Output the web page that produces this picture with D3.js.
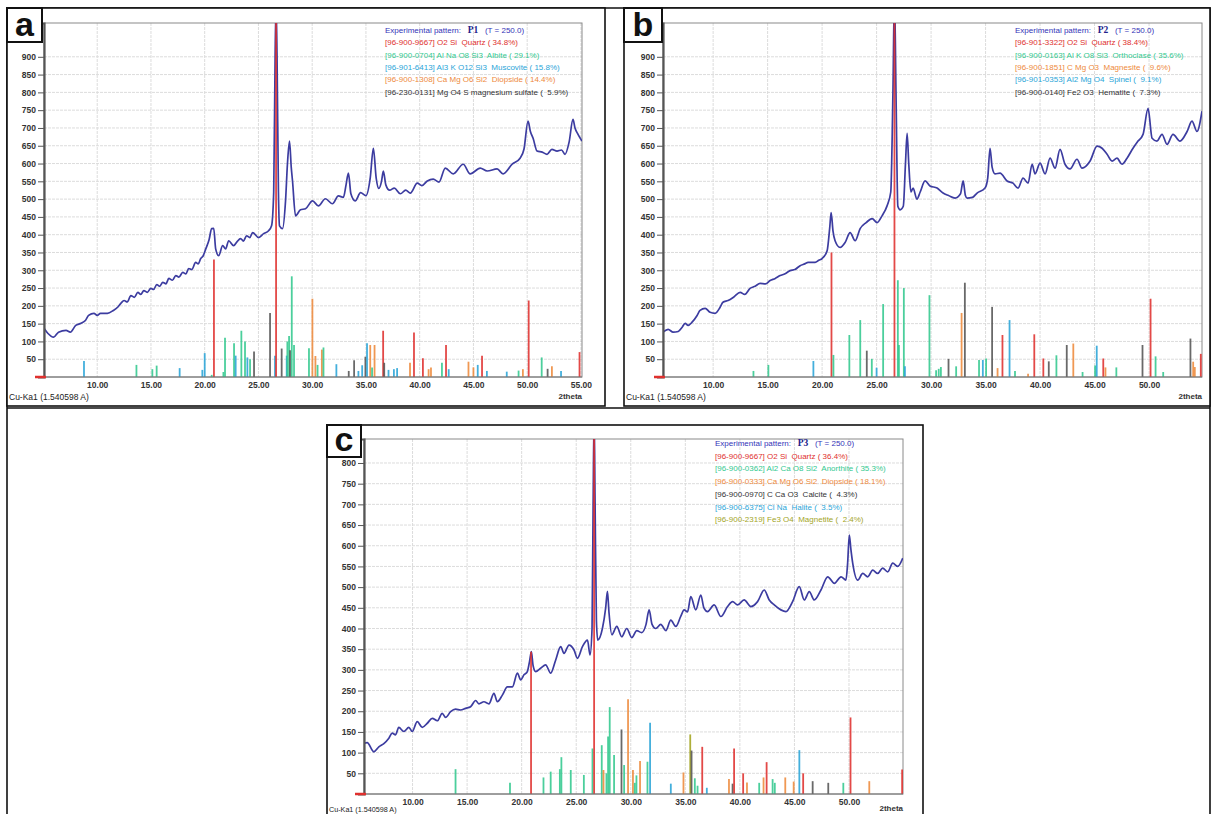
<!DOCTYPE html>
<html>
<head>
<meta charset="utf-8">
<script src="https://cdn.jsdelivr.net/npm/d3@7"></script>
<style>
body { margin: 0; background: #fff; }
svg text { font-family: 'Liberation Sans', Arial, sans-serif; }
.leg { white-space: pre; }
</style>
</head>
<body>
<svg id="fig" width="1213" height="814"></svg>
<script>
// Experimental patterns [2theta, counts]
const patternA = [[5.05,137],[5.4,123],[5.95,112],[6.4,126],[7.1,131],[7.5,126],[8.0,145],[8.5,151],[8.9,159],[9.2,173],[9.7,179],[10.0,173],[10.3,179],[10.95,179],[11.5,187],[11.9,196],[12.2,207],[12.5,215],[12.8,211],[13.13,229],[13.45,224],[13.78,238],[14.05,232],[14.34,243],[14.65,238],[14.99,249],[15.25,246],[15.54,260],[15.8,255],[16.1,266],[16.4,262],[16.66,277],[17.0,272],[17.31,285],[17.6,281],[17.96,294],[18.25,290],[18.51,305],[18.8,302],[19.16,322],[19.4,318],[19.63,333],[19.85,340],[20.1,360],[20.4,385],[20.65,417],[20.84,418],[21.02,360],[21.3,341],[21.67,369],[21.95,360],[22.23,383],[22.69,369],[23.0,380],[23.34,389],[23.6,382],[23.9,397],[24.2,392],[24.46,406],[25.01,392],[25.48,403],[25.94,411],[26.22,425],[26.42,520],[26.55,900],[26.64,1050],[26.73,900],[26.86,520],[26.96,425],[27.24,417],[27.52,495],[27.7,600],[27.89,663],[28.05,590],[28.17,551],[28.45,453],[28.91,470],[29.38,473],[30.03,495],[30.58,481],[31.23,501],[31.88,487],[32.44,509],[32.9,505],[33.15,540],[33.37,573],[33.6,515],[34.0,495],[34.5,518],[35.0,510],[35.4,560],[35.69,643],[35.95,560],[36.2,530],[36.45,550],[36.62,579],[36.85,540],[37.2,525],[37.64,531],[38.2,515],[38.7,525],[39.13,517],[39.78,545],[40.2,538],[40.71,551],[41.26,556],[41.8,548],[42.38,587],[43.12,571],[44.05,598],[44.7,571],[45.63,587],[46.28,579],[47.2,585],[47.76,571],[48.6,598],[49.34,615],[49.7,640],[50.08,719],[50.3,690],[50.55,671],[50.92,635],[51.4,632],[51.85,626],[52.3,640],[52.78,635],[53.2,638],[53.52,626],[53.9,660],[54.26,724],[54.45,700],[54.73,682],[55.1,663]];

const patternB = [[5.4,126],[5.87,134],[6.33,126],[6.8,128],[7.16,140],[7.43,151],[7.7,145],[8.07,154],[8.53,173],[8.8,187],[9.27,193],[9.72,182],[10.18,179],[10.64,196],[10.9,210],[11.37,215],[11.9,225],[12.48,238],[12.9,232],[13.39,249],[13.85,255],[14.31,263],[14.8,262],[15.23,271],[15.7,277],[16.15,285],[16.6,290],[17.06,299],[17.5,302],[17.98,313],[18.4,318],[18.72,322],[19.36,322],[19.7,328],[20.0,333],[20.46,355],[20.7,420],[20.83,462],[21.0,410],[21.19,383],[21.65,364],[22.11,378],[22.57,406],[23.03,383],[23.49,417],[24.04,434],[24.59,445],[25.05,434],[25.5,453],[25.96,481],[26.3,520],[26.5,800],[26.64,1080],[26.78,800],[26.95,480],[27.16,470],[27.45,480],[27.65,600],[27.8,685],[27.95,600],[28.15,520],[28.35,531],[28.7,500],[29.0,520],[29.45,551],[29.9,537],[30.55,531],[31.1,517],[31.6,510],[32.2,503],[32.7,515],[32.94,551],[33.15,510],[33.3,503],[33.8,505],[34.22,517],[34.95,531],[35.2,560],[35.41,643],[35.6,590],[35.87,571],[36.33,573],[36.97,551],[37.52,545],[37.98,531],[38.44,559],[38.9,545],[39.27,598],[39.54,571],[40.0,601],[40.46,571],[40.92,615],[41.38,587],[41.83,640],[42.29,598],[42.75,585],[43.39,612],[43.85,587],[44.59,607],[45.23,649],[45.69,643],[46.15,626],[46.61,607],[47.06,615],[47.52,598],[47.98,615],[48.53,643],[48.99,663],[49.45,682],[49.91,755],[50.28,671],[50.73,663],[51.19,682],[51.65,654],[52.2,682],[52.84,663],[53.49,690],[53.94,719],[54.4,690],[54.86,747]];

const patternC = [[5.53,122],[5.84,124],[6.45,102],[6.91,114],[7.37,122],[7.83,135],[8.14,147],[8.44,143],[8.74,161],[9.2,151],[9.66,161],[9.97,151],[10.43,175],[10.89,161],[11.35,171],[11.81,183],[12.27,177],[12.72,195],[13.03,185],[13.49,199],[13.94,205],[14.4,203],[14.86,207],[15.32,211],[15.78,226],[16.08,218],[16.54,223],[17.0,218],[17.46,243],[17.77,223],[18.23,239],[18.69,259],[19.15,259],[19.61,292],[19.91,276],[20.21,288],[20.52,296],[20.72,320],[20.89,344],[21.05,310],[21.28,296],[21.74,304],[22.2,312],[22.66,292],[23.12,324],[23.58,356],[23.88,340],[24.34,360],[24.8,348],[25.11,328],[25.57,356],[26.03,372],[26.27,336],[26.45,400],[26.55,700],[26.64,920],[26.73,700],[26.85,420],[26.97,372],[27.4,400],[27.7,450],[27.86,490],[28.0,440],[28.26,385],[28.72,405],[29.17,380],[29.63,400],[30.09,378],[30.55,395],[31.0,390],[31.4,410],[31.68,445],[31.95,410],[32.29,400],[32.75,410],[33.21,395],[33.67,420],[34.13,405],[34.59,430],[34.89,445],[35.2,440],[35.5,477],[35.96,445],[36.42,481],[36.7,450],[37.04,441],[37.64,457],[38.26,429],[38.87,453],[39.33,465],[39.79,457],[40.39,469],[41.01,453],[41.62,465],[42.23,493],[42.69,469],[43.15,457],[43.76,445],[44.22,441],[44.83,465],[45.44,501],[45.9,469],[46.36,489],[46.82,469],[47.43,493],[48.05,525],[48.66,509],[49.27,525],[49.72,517],[49.88,560],[50.03,626],[50.18,590],[50.34,558],[50.8,517],[51.26,533],[51.72,525],[52.17,541],[52.63,533],[53.09,546],[53.55,537],[54.01,558],[54.47,550],[54.93,570]];

// Reference sticks [2theta, counts, phase]
const sticksA = [[8.77,45,'mus'],[13.65,34,'alb'],[15.13,22,'alb'],[15.53,32,'alb'],[17.67,25,'mus'],[19.78,20,'mus'],[20.0,67,'mus'],[20.65,6,'alb'],[20.86,330,'qtz'],[21.74,14,'alb'],[21.89,110,'alb'],[22.73,95,'alb'],[22.88,60,'mus'],[23.41,130,'alb'],[23.75,100,'alb'],[23.97,55,'mus'],[24.22,50,'alb'],[24.59,72,'mgs'],[26.08,180,'mgs'],[26.54,60,'mus'],[26.64,1000,'qtz'],[27.16,80,'mgs'],[27.63,60,'mus'],[27.69,100,'alb'],[27.85,115,'alb'],[27.94,75,'mgs'],[28.1,283,'alb'],[28.31,90,'alb'],[29.7,81,'alb'],[30.02,220,'dio'],[30.3,59,'dio'],[30.5,34,'alb'],[30.9,77,'dio'],[31.05,83,'alb'],[32.25,36,'mus'],[33.4,17,'mgs'],[33.9,47,'mgs'],[34.3,17,'mus'],[34.65,33,'mus'],[34.95,57,'mgs'],[35.1,95,'mus'],[35.4,90,'dio'],[35.57,27,'alb'],[35.8,90,'dio'],[36.6,130,'qtz'],[36.7,40,'mgs'],[37.1,20,'mus'],[37.6,22,'mus'],[37.9,25,'mus'],[39.1,40,'dio'],[39.47,125,'qtz'],[40.3,53,'qtz'],[40.83,22,'dio'],[41.05,27,'dio'],[42.07,40,'alb'],[42.45,90,'qtz'],[42.7,22,'mus'],[44.54,43,'dio'],[45.0,27,'dio'],[45.4,34,'mus'],[45.8,60,'qtz'],[46.25,17,'mus'],[48.1,15,'mus'],[49.2,18,'alb'],[49.6,22,'dio'],[50.14,215,'qtz'],[51.35,55,'alb'],[51.9,23,'mgs'],[52.3,30,'dio'],[53.15,17,'mus'],[54.87,70,'qtz']];

const sticksB = [[13.7,17,'ort'],[15.07,34,'ort'],[19.2,45,'spl'],[20.86,350,'qtz'],[21.04,62,'ort'],[22.5,118,'ort'],[23.5,160,'ort'],[24.1,74,'hem'],[24.56,51,'ort'],[25.0,26,'spl'],[25.6,205,'ort'],[26.64,1000,'qtz'],[26.95,272,'ort'],[27.05,90,'ort'],[27.5,250,'ort'],[27.6,30,'spl'],[29.85,230,'ort'],[30.46,19,'ort'],[30.7,23,'ort'],[30.9,28,'ort'],[31.6,51,'hem'],[32.3,30,'ort'],[32.8,180,'mag'],[33.1,265,'hem'],[34.4,48,'ort'],[34.75,48,'spl'],[35.05,52,'ort'],[35.6,197,'hem'],[36.1,25,'mag'],[36.55,118,'qtz'],[37.2,160,'spl'],[37.7,17,'ort'],[38.9,9,'mag'],[39.47,120,'qtz'],[40.3,52,'qtz'],[40.8,44,'hem'],[41.5,61,'ort'],[42.45,90,'hem'],[43.05,94,'mag'],[43.9,14,'ort'],[45.05,32,'ort'],[45.2,88,'spl'],[45.8,52,'qtz'],[46.0,27,'mag'],[47.0,27,'ort'],[49.4,90,'hem'],[50.14,220,'qtz'],[50.6,58,'ort'],[51.3,14,'ort'],[53.8,108,'hem'],[54.05,43,'mag'],[54.2,28,'mag'],[54.75,65,'qtz']];

const sticksC = [[13.94,60,'ano'],[18.93,27,'ano'],[20.86,344,'qtz'],[22.0,40,'ano'],[22.66,54,'ano'],[23.5,60,'ano'],[23.64,89,'ano'],[24.5,58,'ano'],[25.7,46,'ano'],[26.49,110,'ano'],[26.64,900,'qtz'],[27.34,118,'ano'],[27.5,58,'dio'],[27.77,50,'ano'],[27.92,139,'ano'],[28.07,210,'ano'],[28.47,94,'ano'],[29.15,156,'cal'],[29.39,70,'ano'],[29.75,229,'dio'],[30.2,58,'dio'],[30.37,27,'ano'],[30.52,45,'ano'],[30.85,80,'dio'],[31.53,78,'ano'],[31.77,172,'hal'],[33.67,25,'hal'],[34.83,52,'dio'],[35.45,144,'mgt'],[35.57,105,'cal'],[35.87,38,'ano'],[36.12,20,'ano'],[36.55,114,'qtz'],[36.97,15,'hal'],[39.0,36,'dio'],[39.33,25,'cal'],[39.47,110,'qtz'],[40.3,50,'qtz'],[40.65,28,'dio'],[41.77,27,'ano'],[42.17,40,'dio'],[42.45,77,'qtz'],[43.0,36,'ano'],[43.2,27,'ano'],[44.16,40,'dio'],[44.93,30,'dio'],[45.45,106,'hal'],[45.8,50,'qtz'],[46.67,31,'cal'],[48.1,27,'cal'],[49.48,27,'ano'],[50.14,185,'qtz'],[51.86,31,'dio'],[54.87,59,'qtz']];

// Legends [phase, text]
const legendA = [['qtz','[96-900-9667] O2 Si  Quartz ( 34.8%)'],['alb','[96-900-0704] Al Na O8 Si3  Albite ( 29.1%)'],['mus','[96-901-6413] Al3 K O12 Si3  Muscovite ( 15.8%)'],['dio','[96-900-1308] Ca Mg O6 Si2  Diopside ( 14.4%)'],['mgs','[96-230-0131] Mg O4 S magnesium sulfate (  5.9%)']];
const legendB = [['qtz','[96-901-3322] O2 Si  Quartz ( 38.4%)'],['ort','[96-900-0163] Al K O8 Si3  Orthoclase ( 35.6%)'],['mag','[96-900-1851] C Mg O3  Magnesite (  9.6%)'],['spl','[96-901-0353] Al2 Mg O4  Spinel (  9.1%)'],['hem','[96-900-0140] Fe2 O3  Hematite (  7.3%)']];
const legendC = [['qtz','[96-900-9667] O2 Si  Quartz ( 36.4%)'],['ano','[96-900-0362] Al2 Ca O8 Si2  Anorthite ( 35.3%)'],['dio','[96-900-0333] Ca Mg O6 Si2  Diopside ( 18.1%)'],['cal','[96-900-0970] C Ca O3  Calcite (  4.3%)'],['hal','[96-900-6375] Cl Na  Halite (  3.5%)'],['mgt','[96-900-2319] Fe3 O4  Magnetite (  2.4%)']];

const ticksY_AB = d3.range(50, 901, 50);
const ticksY_C = d3.range(50, 801, 50);
const ticksX_A = d3.range(10, 56, 5);
const ticksX_BC = d3.range(10, 51, 5);

// colours per phase
const phaseColor = {
  qtz: '#e0302e', alb: '#33c98f', mus: '#2aa5d8', dio: '#ee8a3c', mgs: '#555555',
  ort: '#33c98f', mag: '#ee8a3c', spl: '#2aa5d8', hem: '#555555',
  ano: '#33c98f', cal: '#555555', hal: '#2aa5d8', mgt: '#a3a51f'
};

const svg = d3.select('#fig');

// outer table lines
const frame = svg.append('g').attr('fill', 'none').attr('stroke', '#111').attr('stroke-width', 1.6);
frame.append('path').attr('d', 'M7,814 V8 H1210 V814 M7,408 H1210');

function drawPanel(p) {
  const g = svg.append('g');
  const x = d3.scaleLinear().domain(p.xDomain).range([p.left, p.right]);
  const y = d3.scaleLinear().domain([0, p.yMax]).range([p.bottom, p.top]);

  // panel frame
  g.append('rect')
    .attr('x', p.frame[0]).attr('y', p.frame[1])
    .attr('width', p.frame[2] - p.frame[0]).attr('height', p.frame[3] - p.frame[1])
    .attr('fill', '#fff').attr('stroke', '#111').attr('stroke-width', 1.6);

  svg.append('clipPath').attr('id', 'clip-' + p.id).append('rect')
    .attr('x', p.left).attr('y', p.top)
    .attr('width', p.right - p.left).attr('height', p.bottom - p.top);

  // grid
  g.append('g').selectAll('line').data(p.yTicks).join('line')
    .attr('x1', p.left).attr('x2', p.right)
    .attr('y1', d => y(d)).attr('y2', d => y(d))
    .attr('stroke', '#dcdcdc').attr('stroke-dasharray', '3,1');
  g.append('g').selectAll('line').data(p.xTicks).join('line')
    .attr('x1', d => x(d)).attr('x2', d => x(d))
    .attr('y1', p.top).attr('y2', p.bottom)
    .attr('stroke', '#dcdcdc').attr('stroke-dasharray', '3,1');

  // plot border
  g.append('rect')
    .attr('x', p.left).attr('y', p.top)
    .attr('width', p.right - p.left).attr('height', p.bottom - p.top)
    .attr('fill', 'none').attr('stroke', '#8a8a8a').attr('stroke-width', 1);

  // experimental pattern
  const line = d3.line().x(d => x(d[0])).y(d => y(d[1])).curve(d3.curveMonotoneX);
  g.append('path').datum(p.pattern)
    .attr('clip-path', 'url(#clip-' + p.id + ')')
    .attr('d', line)
    .attr('fill', 'none').attr('stroke', '#3c3ca0').attr('stroke-width', 1.7);

  // reference sticks
  g.append('g').attr('clip-path', 'url(#clip-' + p.id + ')')
    .selectAll('line').data(p.sticks).join('line')
    .attr('x1', d => x(d[0])).attr('x2', d => x(d[0]))
    .attr('y1', y(0)).attr('y2', d => y(d[1]))
    .attr('stroke', d => phaseColor[d[2]]).attr('stroke-width', 1.8).attr('opacity', 0.88);

  // baseline
  g.append('line').attr('x1', p.left).attr('x2', p.right)
    .attr('y1', y(0)).attr('y2', y(0)).attr('stroke', '#777').attr('stroke-width', 1);

  // y axis
  const yAxis = g.append('g').attr('transform', `translate(${p.left},0)`)
    .call(d3.axisLeft(y).tickValues(p.yTicks).tickSize(6).tickPadding(2).tickFormat(d3.format('d')));
  yAxis.select('.domain').attr('stroke', '#555').attr('stroke-width', 2.2);
  yAxis.selectAll('.tick line').attr('stroke', '#555');
  yAxis.selectAll('text').attr('fill', '#333').attr('font-size', 8.5).attr('font-weight', 'bold');

  // red zero marker
  g.append('line').attr('x1', p.left - 9).attr('x2', p.left + 2)
    .attr('y1', y(0)).attr('y2', y(0)).attr('stroke', '#e0302e').attr('stroke-width', 2.5);

  // x axis
  const xAxis = g.append('g').attr('transform', `translate(0,${y(0)})`)
    .call(d3.axisBottom(x).tickValues(p.xTicks).tickSize(0).tickPadding(5).tickFormat(d3.format('.2f')));
  xAxis.select('.domain').remove();
  xAxis.selectAll('text').attr('fill', '#333').attr('font-size', 8.5).attr('font-weight', 'bold');

  g.append('text').attr('x', p.frame[0] + 2).attr('y', y(0) + p.labelDy)
    .attr('font-size', p.labelSize).attr('fill', '#222').text('Cu-Ka1 (1.540598 A)');
  g.append('text').attr('x', p.right).attr('y', y(0) + p.labelDy - 1).attr('text-anchor', 'end')
    .attr('font-size', 8).attr('font-weight', 'bold').attr('fill', '#333').text('2theta');

  // legend
  const leg = g.append('g').attr('transform', `translate(${p.legX},${p.legY})`);
  const head = leg.append('text').attr('class', 'leg').attr('font-size', 8).attr('fill', '#3434b8');
  head.append('tspan').text('Experimental pattern:   ');
  head.append('tspan').attr('font-family', 'Liberation Serif').attr('font-weight', 'bold')
    .attr('font-size', 9.5).attr('fill', '#22228a').text(p.name);
  head.append('tspan').text('   (T = 250.0)');
  leg.selectAll('text.row').data(p.legend).join('text')
    .attr('class', 'row leg')
    .attr('y', (d, i) => (i + 1) * p.legStep)
    .attr('font-size', 8)
    .attr('fill', d => phaseColor[d[0]] === '#555555' ? '#333' : phaseColor[d[0]])
    .text(d => d[1]);

  // panel letter
  g.append('rect')
    .attr('x', p.box[0]).attr('y', p.box[1])
    .attr('width', p.box[2] - p.box[0]).attr('height', p.box[3] - p.box[1])
    .attr('fill', '#fff').attr('stroke', '#111').attr('stroke-width', 2);
  g.append('text')
    .attr('x', (p.box[0] + p.box[2]) / 2).attr('y', p.box[3] - 6)
    .attr('text-anchor', 'middle')
    .attr('font-family', 'Liberation Serif').attr('font-weight', 'bold')
    .attr('font-size', 34).attr('fill', '#111').text(p.letter);
}

drawPanel({
  id: 'a', letter: 'a', name: 'P1',
  frame: [7, 8, 605, 406], box: [7, 8, 42, 42],
  left: 44, right: 582, top: 23, bottom: 377,
  xDomain: [5.05, 55.1], yMax: 995,
  xTicks: ticksX_A, yTicks: ticksY_AB,
  pattern: patternA, sticks: sticksA, legend: legendA,
  legX: 385, legY: 33, legStep: 12.3, labelDy: 23, labelSize: 8.5
});

drawPanel({
  id: 'b', letter: 'b', name: 'P2',
  frame: [624, 8, 1210, 406], box: [624, 8, 662, 42],
  left: 663, right: 1202, top: 23, bottom: 377,
  xDomain: [5.4, 54.86], yMax: 995,
  xTicks: ticksX_BC, yTicks: ticksY_AB,
  pattern: patternB, sticks: sticksB, legend: legendB,
  legX: 1015, legY: 33, legStep: 12.3, labelDy: 23, labelSize: 8.5
});

drawPanel({
  id: 'c', letter: 'c', name: 'P3',
  frame: [327, 425, 923, 830], box: [327, 425, 361, 457],
  left: 364, right: 903, top: 439, bottom: 794,
  xDomain: [5.55, 54.95], yMax: 858,
  xTicks: ticksX_BC, yTicks: ticksY_C,
  pattern: patternC, sticks: sticksC, legend: legendC,
  legX: 715, legY: 446, legStep: 12.7, labelDy: 18, labelSize: 7.2
});
</script>
</body>
</html>
